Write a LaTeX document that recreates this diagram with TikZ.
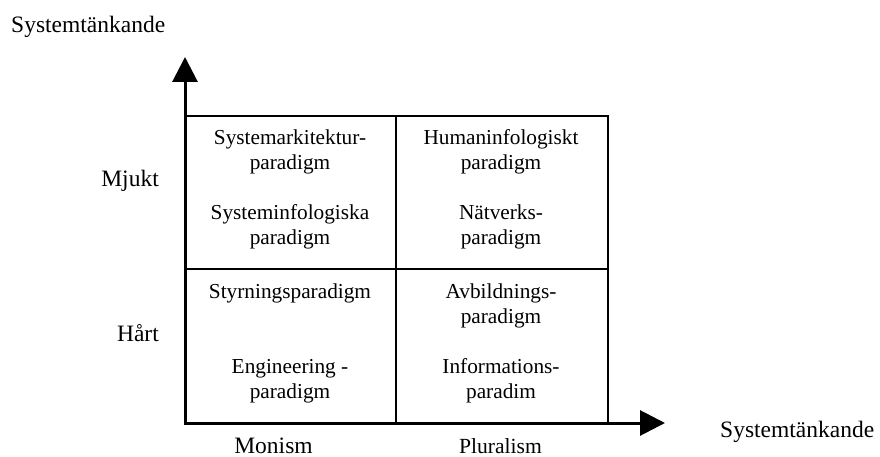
\documentclass[tikz,border=0pt]{standalone}
\usepackage{fontspec}
\setmainfont{Liberation Serif}
\usetikzlibrary{arrows.meta}

% two centred lines whose first baseline is the node's base
\newcommand{\pairlines}[2]{\begin{tabular}[t]{@{}c@{}}#1\\#2\end{tabular}}

\begin{document}
\begin{tikzpicture}[x=1pt, y=-1pt,
  celltext/.style={font=\fontsize{21.3}{25}\selectfont, anchor=base, inner sep=0pt},
  axislabel/.style={font=\fontsize{23.5}{27}\selectfont, inner sep=0pt},
  gridline/.style={line width=1.5pt},
  axisline/.style={line width=3pt, -{Triangle[length=25pt,width=25pt]}}]
  \useasboundingbox (0,0) rectangle (880,457);

  % quadrant grid
  \coordinate (nw) at (185,116);
  \coordinate (se) at (608,423);
  \coordinate (midtop) at (396,116);
  \coordinate (midbot) at (396,423);
  \coordinate (midleft) at (185,269);
  \coordinate (midright) at (608,269);
  \draw[gridline] (nw) rectangle (se);
  \draw[gridline] (midtop) -- (midbot);
  \draw[gridline] (midleft) -- (midright);

  % axes
  \coordinate (origin) at (185,423);
  \coordinate (ytip) at (185,57);
  \coordinate (xtip) at (665,423);
  \draw[axisline, line cap=butt] ([yshift=1.5pt]origin) -- (ytip);
  \draw[axisline] ([xshift=-1.5pt]origin) -- (xtip);

  % quadrant contents
  \node[celltext] (sa) at (290,145) {\pairlines{Systemarkitektur-}{paradigm}};
  \node[celltext] (si) at (290,219) {\pairlines{Systeminfologiska}{paradigm}};
  \node[celltext] (hi) at (501,145) {\pairlines{Humaninfologiskt}{paradigm}};
  \node[celltext] (nv) at (501,219) {\pairlines{Nätverks-}{paradigm}};
  \node[celltext] (st) at (290,298) {Styrningsparadigm};
  \node[celltext] (en) at (290,373) {\pairlines{Engineering -}{paradigm}};
  \node[celltext] (av) at (501,298) {\pairlines{Avbildnings-}{paradigm}};
  \node[celltext] (in) at (501,373) {\pairlines{Informations-}{paradim}};

  % axis labels
  \node[axislabel, anchor=base west] (ytitle) at (11,33) {Systemtänkande};
  \node[axislabel, anchor=base west] (xtitle) at (720,437) {Systemtänkande};
  \node[axislabel, anchor=base east] (soft) at (159,186) {Mjukt};
  \node[axislabel, anchor=base east] (hard) at (159,341) {Hårt};
  \node[axislabel, anchor=base] (mon) at (273.5,453) {Monism};
  \node[axislabel, anchor=base, font=\fontsize{21.6}{25}\selectfont] (plu) at (500.5,453) {Pluralism};
\end{tikzpicture}
\end{document}
